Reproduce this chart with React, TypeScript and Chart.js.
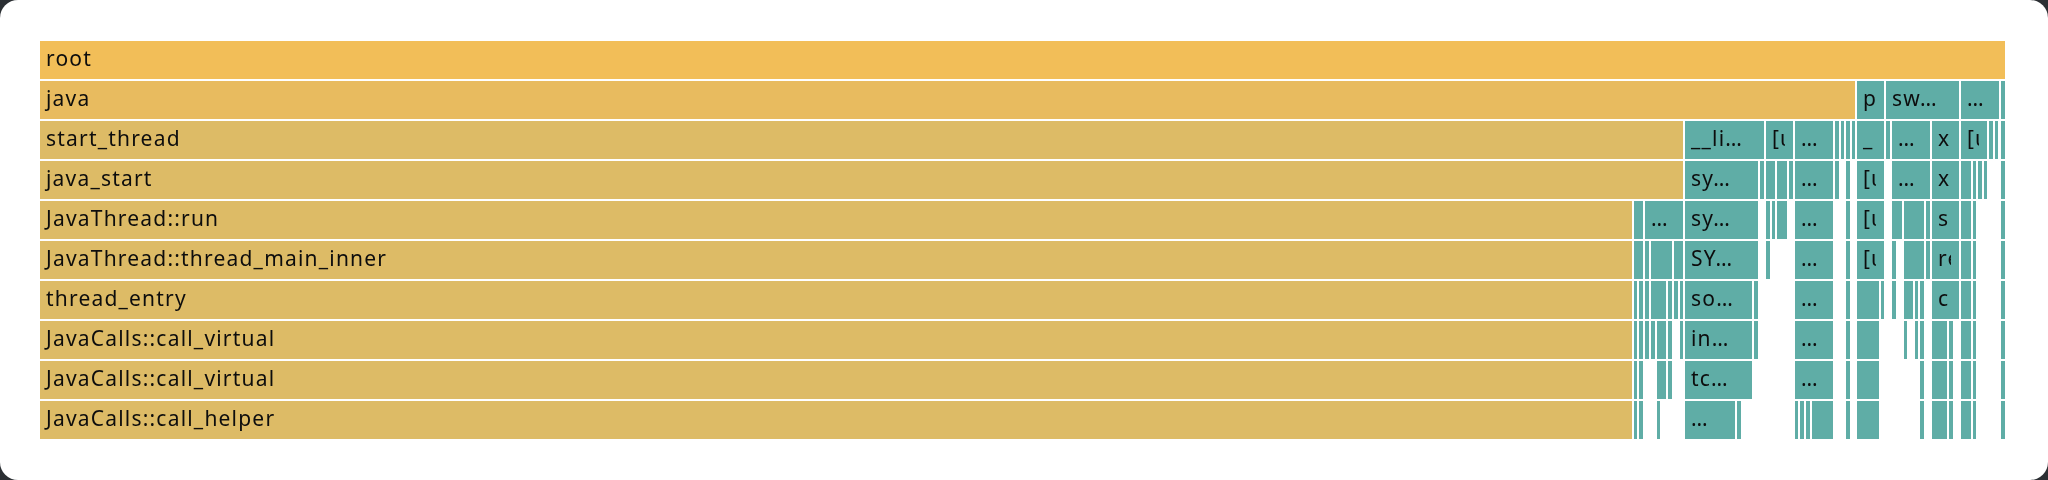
import React, { useEffect, useRef } from "react";
import { Chart, registerables } from "chart.js";

Chart.register(...registerables);

type Frame = [number, number, string];

// Flame-graph frames per stack depth: [start sample, end sample, name]
const totalSamples = 1967;

const depth0: Frame[] = [[0, 1967, "root"]];

const depth1: Frame[] = [
  [0, 1817, "java"], [1817, 1846, "p"], [1846, 1921, "sw…"], [1921, 1961, "…"], [1961, 1967, ""],
];

const depth2: Frame[] = [
  [0, 1645, "start_thread"], [1645, 1726, "__li…"], [1726, 1755, "[unknown]"], [1755, 1795, "…"],
  [1795, 1801, ""], [1801, 1806, ""], [1806, 1812, ""], [1812, 1817, ""], [1817, 1846, "_"],
  [1846, 1852, ""], [1852, 1892, "…"], [1892, 1921, "x"], [1921, 1949, "[unknown]"],
  [1949, 1955, ""], [1955, 1960, ""], [1961, 1967, ""],
];

const depth3: Frame[] = [
  [0, 1645, "java_start"], [1645, 1720, "sy…"], [1720, 1726, ""], [1726, 1737, ""], [1737, 1749, ""],
  [1749, 1755, ""], [1755, 1795, "…"], [1795, 1801, ""], [1806, 1812, ""], [1817, 1846, "[unknown]"],
  [1852, 1892, "…"], [1892, 1921, "x"], [1921, 1933, ""], [1933, 1938, ""], [1938, 1944, ""],
  [1944, 1949, ""], [1961, 1967, ""],
];

const depth4: Frame[] = [
  [0, 1594, "JavaThread::run"], [1594, 1605, ""], [1605, 1645, "…"], [1645, 1720, "sy…"],
  [1726, 1732, ""], [1732, 1737, ""], [1737, 1749, ""], [1755, 1795, "…"], [1806, 1812, ""],
  [1817, 1846, "[unknown]"], [1852, 1864, ""], [1864, 1886, ""], [1886, 1892, ""], [1892, 1921, "s"],
  [1921, 1933, ""], [1933, 1938, ""], [1961, 1967, ""],
];

const depth5: Frame[] = [
  [0, 1594, "JavaThread::thread_main_inner"], [1594, 1605, ""], [1605, 1611, ""], [1611, 1634, ""],
  [1634, 1645, ""], [1645, 1720, "SY…"], [1726, 1732, ""], [1755, 1795, "…"], [1806, 1812, ""],
  [1817, 1846, "[unknown]"], [1852, 1858, ""], [1864, 1886, ""], [1886, 1892, ""], [1892, 1921, "re"],
  [1921, 1933, ""], [1933, 1938, ""], [1961, 1967, ""],
];

const depth6: Frame[] = [
  [0, 1594, "thread_entry"], [1594, 1599, ""], [1599, 1605, ""], [1605, 1611, ""], [1611, 1628, ""],
  [1628, 1634, ""], [1634, 1640, ""], [1640, 1645, ""], [1645, 1714, "so…"], [1714, 1720, ""],
  [1755, 1795, "…"], [1806, 1812, ""], [1817, 1841, ""], [1841, 1846, ""], [1852, 1858, ""],
  [1864, 1875, ""], [1875, 1880, ""], [1880, 1886, ""], [1892, 1921, "c"], [1921, 1933, ""],
  [1933, 1938, ""], [1961, 1967, ""],
];

const depth7: Frame[] = [
  [0, 1594, "JavaCalls::call_virtual"], [1594, 1599, ""], [1599, 1605, ""], [1605, 1611, ""],
  [1611, 1617, ""], [1617, 1628, ""], [1628, 1634, ""], [1640, 1645, ""], [1645, 1714, "in…"],
  [1714, 1720, ""], [1755, 1795, "…"], [1806, 1812, ""], [1817, 1841, ""], [1864, 1869, ""],
  [1875, 1880, ""], [1880, 1886, ""], [1892, 1909, ""], [1909, 1915, ""], [1921, 1933, ""],
  [1933, 1938, ""], [1961, 1967, ""],
];

const depth8: Frame[] = [
  [0, 1594, "JavaCalls::call_virtual"], [1594, 1599, ""], [1599, 1605, ""], [1617, 1628, ""],
  [1628, 1634, ""], [1645, 1714, "tc…"], [1755, 1795, "…"], [1806, 1812, ""], [1817, 1841, ""],
  [1880, 1886, ""], [1892, 1909, ""], [1909, 1915, ""], [1921, 1933, ""], [1933, 1938, ""],
  [1961, 1967, ""],
];

const depth9: Frame[] = [
  [0, 1594, "JavaCalls::call_helper"], [1594, 1599, ""], [1599, 1605, ""], [1617, 1622, ""],
  [1645, 1697, "…"], [1697, 1703, ""], [1755, 1760, ""], [1760, 1766, ""], [1766, 1772, ""],
  [1772, 1795, ""], [1806, 1812, ""], [1817, 1841, ""], [1880, 1886, ""], [1892, 1909, ""],
  [1909, 1915, ""], [1921, 1933, ""], [1933, 1938, ""], [1961, 1967, ""],
];

const depthRows: Frame[][] = [depth0, depth1, depth2, depth3, depth4, depth5, depth6, depth7, depth8, depth9];
const depthLabels = depthRows.map((_, i) => "d" + i);

const WARM = ["#f2be58", "#e8bb5f", "#ddbb66"];
const TEAL = "#5fada6";

export default function App() {
  const ref = useRef<HTMLCanvasElement | null>(null);

  useEffect(() => {
    document.body.style.margin = "0";
    document.body.style.background = "#2b2f33";
    const canvas = ref.current;
    if (!canvas) return;

    const points: { x: [number, number]; y: string }[] = [];
    const names: string[] = [];
    const colors: string[] = [];
    depthRows.forEach((row, d) => {
      row.forEach(([s, e, name]) => {
        points.push({ x: [s, e], y: depthLabels[d] });
        names.push(name);
        colors.push(s === 0 ? WARM[Math.min(d, 2)] : TEAL);
      });
    });

    const labelPlugin = {
      id: "frameLabels",
      afterDatasetsDraw(chart: any) {
        const ctx = chart.ctx as CanvasRenderingContext2D;
        const meta = chart.getDatasetMeta(0);
        meta.data.forEach((el: any, i: number) => {
          const name = names[i];
          if (!name) return;
          const p = el.getProps(["x", "base", "y", "height"], true);
          const left = Math.min(p.x, p.base) + 1;
          const right = Math.max(p.x, p.base) - 1;
          const clipW = right - 8 - left;
          if (clipW <= 0) return;
          ctx.save();
          ctx.beginPath();
          ctx.rect(left, p.y - p.height / 2, clipW, p.height);
          ctx.clip();
          ctx.font = '21px "Noto Sans", "Open Sans", Arial, sans-serif';
          (ctx as any).letterSpacing = "1.2px";
          ctx.fillStyle = "#0d0d0d";
          ctx.textAlign = "left";
          ctx.textBaseline = "alphabetic";
          ctx.fillText(name, left + 6, p.y + 6);
          ctx.restore();
        });
      },
    };

    const chart = new Chart(canvas, {
      type: "bar",
      data: {
        labels: depthLabels,
        datasets: [
          {
            data: points as any,
            backgroundColor: colors,
            borderColor: "#ffffff",
            borderWidth: 1,
            borderSkipped: false,
            inflateAmount: 0,
            grouped: false,
            barPercentage: 1,
            categoryPercentage: 1,
          } as any,
        ],
      },
      options: {
        indexAxis: "y",
        animation: false,
        responsive: false,
        maintainAspectRatio: false,
        events: [],
        layout: { padding: { left: 39, right: 42, top: 40, bottom: 40 } },
        scales: {
          x: { type: "linear", min: 0, max: totalSamples, display: false },
          y: { type: "category", display: false, offset: true },
        },
        plugins: { legend: { display: false }, tooltip: { enabled: false } },
      },
      plugins: [labelPlugin],
    });
    return () => chart.destroy();
  }, []);

  return (
    <div style={{ position: "fixed", inset: 0, background: "#2b2f33" }}>
      <div
        style={{
          position: "absolute",
          left: 0,
          top: 0,
          width: 2048,
          height: 480,
          background: "#ffffff",
          borderRadius: 18,
          overflow: "hidden",
        }}
      >
        <canvas ref={ref} width={2048} height={480} style={{ display: "block", width: 2048, height: 480 }} />
      </div>
    </div>
  );
}
